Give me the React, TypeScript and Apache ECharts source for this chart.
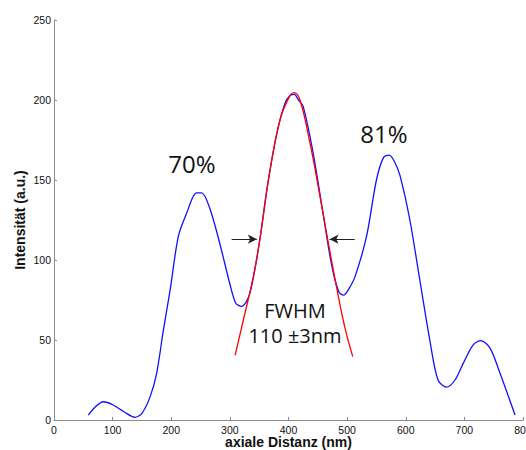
import React, { useEffect, useRef } from "react";
import * as echarts from "echarts";

const xTicks = { min: 0, max: 800, interval: 100 };
const yTicks = { min: 0, max: 250, interval: 50 };

const measured: [number, number][] = [
  [58.6, 3.1], [70, 8], [84, 11.4], [101, 9.4], [120, 5], [138, 1.7], [150, 4.2],
  [164, 14.6], [175, 29], [186.5, 56], [198, 81], [212, 114.6], [226, 129],
  [243, 142], [252, 142], [266, 132], [283, 110], [300, 85], [310, 73], [320, 71],
  [334, 79], [351, 112.5], [363, 144], [380, 179], [394, 198], [403, 203],
  [410, 203.5], [417, 200], [425, 196], [442, 167], [459, 129], [474, 96],
  [486, 80], [494, 78], [503, 82], [513.5, 89.6], [533, 114.6], [550, 150],
  [562, 164], [572, 165.6], [580, 162], [590, 153], [607, 125], [624, 87.5],
  [641, 50], [655, 25], [670, 20.6], [684, 25], [698, 35.4], [715, 47],
  [728, 49.6], [744, 44.8], [761, 29], [786.4, 3.1],
];

const fit: [number, number][] = [
  [309, 40.6], [323, 62.5], [340, 89.6], [351, 112.5], [368.5, 156],
  [385.5, 187.5], [400, 201], [409.4, 204.6], [419.6, 200], [436.7, 173],
  [453.8, 139.6], [465, 116.7], [482, 83], [496, 58], [509.6, 39.6],
];

const arrowLeft: [number, number][] = [[303, 113], [346, 113]];
const arrowRight: [number, number][] = [[513, 113], [470, 113]];

const labels = [
  { text: "70%", x: 192, y: 163, size: 24 },
  { text: "81%", x: 384, y: 133, size: 24 },
  { text: "FWHM", x: 295, y: 310, size: 20 },
  { text: "110 ±3nm", x: 295, y: 335, size: 20 },
];

export default function App() {
  const ref = useRef<HTMLDivElement>(null);
  useEffect(() => {
    if (!ref.current) return;
    const chart = echarts.init(ref.current, null, { renderer: "svg" });
    const axisCommon = {
      axisLine: { show: true, lineStyle: { color: "#8c8c8c", width: 1 } },
      axisTick: { show: true, inside: true, length: 3, lineStyle: { color: "#8c8c8c" } },
      axisLabel: {
        color: "#111",
        fontSize: 10.5,
        lineHeight: 10,
        fontFamily: "Liberation Sans, Arial, sans-serif",
      },
      splitLine: { show: false },
      nameMoveOverlap: false,
      nameTextStyle: {
        color: "#111",
        fontSize: 14,
        lineHeight: 14,
        fontWeight: "bold",
        fontFamily: "Liberation Sans, Arial, sans-serif",
      },
    };
    chart.setOption({
      animation: false,
      grid: { left: 54, right: 3, top: 20, bottom: 30, containLabel: false, outerBoundsMode: "none" },
      xAxis: {
        type: "value",
        ...xTicks,
        ...axisCommon,
        axisLabel: { ...axisCommon.axisLabel, margin: 5 },
        name: "axiale Distanz (nm)",
        nameLocation: "middle",
        nameGap: 15,
      },
      yAxis: {
        type: "value",
        ...yTicks,
        ...axisCommon,
        axisLabel: { ...axisCommon.axisLabel, margin: 3 },
        name: "Intensität (a.u.)",
        nameLocation: "middle",
        nameGap: 27,
      },
      series: [
        {
          type: "line",
          data: measured,
          smooth: 0.3,
          showSymbol: false,
          lineStyle: { color: "#1010ff", width: 1.3 },
          z: 2,
        },
        {
          type: "line",
          data: fit,
          smooth: 0.4,
          showSymbol: false,
          lineStyle: { color: "#ff0000", width: 1.3 },
          z: 3,
          markLine: {
            silent: true,
            symbol: ["none", "arrow"],
            symbolSize: [7, 9],
            label: { show: false },
            lineStyle: { color: "#222", width: 1, type: "solid" },
            data: [
              [{ coord: arrowLeft[0] }, { coord: arrowLeft[1] }],
              [{ coord: arrowRight[0] }, { coord: arrowRight[1] }],
            ],
          },
        },
      ],
      graphic: labels.map((l) => ({
        type: "text",
        x: l.x,
        y: l.y,
        style: {
          text: l.text,
          fontSize: l.size,
          fontFamily: "Open Sans, Noto Sans, sans-serif",
          fill: "#111",
          textAlign: "center",
          textVerticalAlign: "middle",
        },
      })),
    });
    return () => chart.dispose();
  }, []);
  return (
    <div
      ref={ref}
      style={{ position: "fixed", left: 0, top: 0, width: 526, height: 450, background: "#fff" }}
    />
  );
}
